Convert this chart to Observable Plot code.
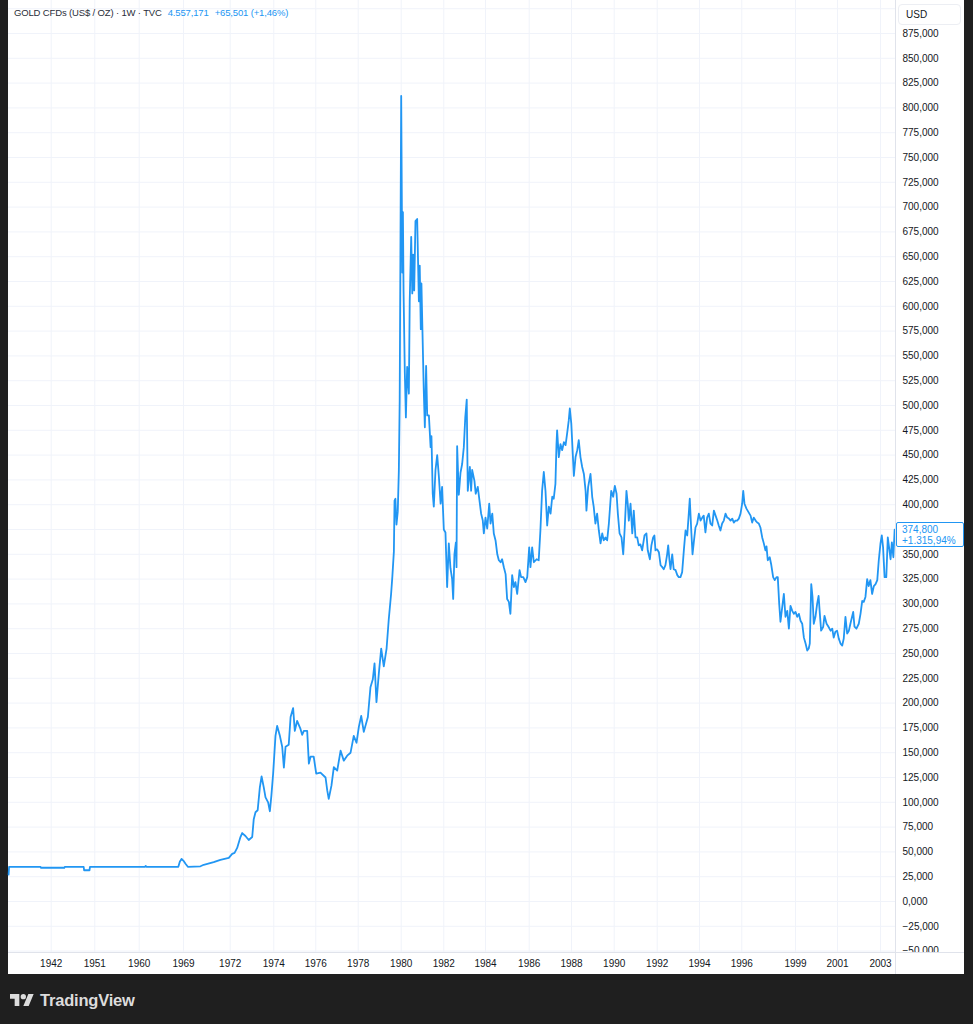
<!DOCTYPE html>
<html>
<head>
<meta charset="utf-8">
<script src="https://cdn.jsdelivr.net/npm/d3@7"></script>
<script src="https://cdn.jsdelivr.net/npm/@observablehq/plot@0.6"></script>
<style>
html,body{margin:0;padding:0;background:#1f1f1f;width:973px;height:1024px;overflow:hidden;font-family:"Liberation Sans",Arial,sans-serif;}
#panel{position:absolute;left:8px;top:0;width:956px;height:974px;background:#fff;}
#main{position:absolute;left:0;top:0;}
#xaxis{position:absolute;left:0;top:953px;}
.vsep{position:absolute;left:895px;top:0;width:1px;height:974px;background:#e0e3eb;}
.hsep{position:absolute;left:8px;top:952px;width:956px;height:1px;background:#e0e3eb;}
#header{position:absolute;left:14px;top:7px;font-size:9.5px;line-height:12px;white-space:pre;display:flex;letter-spacing:-0.15px;}
#header .sym{color:#2a2e39;}
#header .q{color:#2196f3;margin-left:6px;}
#usd{position:absolute;left:898px;top:4px;width:61px;height:19px;border:1px solid #eceef3;border-radius:4px;background:#fff;font-size:10px;line-height:19px;color:#131722;box-sizing:content-box;}
#usd span{margin-left:7px;}
#tag{position:absolute;left:896px;width:66px;height:23px;border:1px solid #2196f3;border-radius:2px;background:#fff;color:#2196f3;font-size:10px;line-height:11px;}
#tag div{margin-left:5px;}
#logo{position:absolute;left:10px;top:991px;height:18px;display:flex;align-items:center;color:#dcdcdc;}
#logo span{font-weight:bold;font-size:16.5px;margin-left:6px;letter-spacing:-0.2px;}
</style>
</head>
<body>
<div id="panel"></div>
<div id="chartwrap"></div>
<script>
// ---------------- DATA ----------------
const symbolName = "GOLD CFDs (US$ / OZ) · 1W · TVC";
const headerQuote = "4.557,171";
const headerChange = "+65,501 (+1,46%)";
const tagChange = "+1.315,94%";
const currency = "USD";

const tickYears = [1942, 1951, 1960, 1969, 1972, 1974, 1976, 1978, 1980, 1982, 1984, 1986, 1988, 1990, 1992, 1994, 1996, 1999, 2001, 2003];

const priceTicks = [-50, -25, 0, 25, 50, 75, 100, 125, 150, 175, 200, 225, 250, 275, 300, 325, 350, 375, 400, 425, 450, 475, 500, 525, 550, 575, 600, 625, 650, 675, 700, 725, 750, 775, 800, 825, 850, 875];
const gridPrices = [...priceTicks, 900];

// [year, price US$/oz]
const goldSeries = [
[1933.2,27],[1933.3,35],[1939.8,35],[1939.9,34],[1944.7,34],[1944.8,35],[1948.7,35],[1948.8,31.5],[1949.9,31.5],[1950.0,35],
[1961.2,35],[1961.3,35.8],[1961.5,35],[1967.95,35],[1968.25,40],[1968.6,43],[1969.0,41],[1969.13,38],[1969.28,35],[1970.09,35.5],
[1970.3,37],[1970.94,39.6],[1971.37,42],[1971.91,44],[1972.09,48],[1972.2,49],[1972.32,54],[1972.47,65],[1972.55,69],[1972.70,66],
[1972.85,62],[1973.01,65],[1973.08,83],[1973.16,90],[1973.26,92],[1973.36,115],[1973.44,126],[1973.54,115],[1973.62,105],[1973.74,100],
[1973.82,91],[1973.89,107],[1973.97,129],[1974.08,167],[1974.16,177],[1974.29,167],[1974.40,156],[1974.48,135],[1974.56,156],[1974.71,158],
[1974.80,186],[1974.92,195],[1975.0,172],[1975.11,182],[1975.27,174],[1975.35,168],[1975.43,172],[1975.59,172],[1975.67,139],[1975.75,146],
[1975.90,146],[1976.02,129],[1976.22,130],[1976.46,125],[1976.54,112],[1976.61,103.5],[1976.74,117],[1976.85,135.5],[1977.01,132],[1977.17,152],
[1977.32,142],[1977.48,147],[1977.64,150],[1977.79,167],[1977.92,160],[1978.03,176],[1978.14,187],[1978.26,171],[1978.45,186],[1978.57,216],
[1978.68,224],[1978.76,240],[1978.85,201],[1978.96,230],[1979.07,255],[1979.19,237],[1979.32,255],[1979.42,284],[1979.53,310],[1979.59,328],
[1979.66,353],[1979.69,404],[1979.73,406],[1979.78,380],[1979.84,393],[1979.89,434],[1979.93,505],[1980.0,812],[1980.05,634],[1980.08,695],
[1980.11,616],[1980.17,533],[1980.22,488],[1980.28,539],[1980.36,512],[1980.40,605],[1980.47,670],[1980.52,613],[1980.56,652],[1980.61,616],
[1980.67,686],[1980.75,688],[1980.83,605],[1980.87,641],[1980.92,577],[1980.95,623],[1981.00,573],[1981.06,515],[1981.11,478],[1981.17,540],
[1981.22,490],[1981.30,490],[1981.38,458],[1981.42,469],[1981.48,411],[1981.53,398],[1981.61,435],[1981.69,450],[1981.77,428],[1981.85,401],
[1981.92,418],[1982.00,375],[1982.08,372],[1982.16,317],[1982.24,361],[1982.32,336],[1982.40,325],[1982.45,305],[1982.51,350],[1982.58,362],
[1982.61,337],[1982.64,459],[1982.72,410],[1982.80,432],[1982.88,441],[1982.96,458],[1983.03,488],[1983.10,506],[1983.15,414],[1983.25,438],
[1983.31,414],[1983.36,435],[1983.47,424],[1983.53,411],[1983.63,418],[1983.73,401],[1983.79,391],[1983.87,384],[1983.92,371],[1984.00,387],
[1984.08,376],[1984.17,401],[1984.23,381],[1984.31,391],[1984.38,371],[1984.46,364],[1984.54,350],[1984.61,344],[1984.69,342],[1984.76,345],
[1984.84,337],[1984.92,330],[1984.99,305],[1985.07,302],[1985.14,290],[1985.22,329],[1985.30,317],[1985.37,322],[1985.45,310],[1985.56,334],
[1985.63,327],[1985.73,327],[1985.83,322],[1985.91,327],[1986.00,357],[1986.06,337],[1986.14,357],[1986.22,342],[1986.35,345],[1986.45,344],
[1986.53,374],[1986.61,414],[1986.69,433],[1986.77,414],[1986.85,379],[1986.93,398],[1987.01,391],[1987.09,408],[1987.16,406],[1987.24,421],
[1987.29,461],[1987.32,475],[1987.40,448],[1987.48,461],[1987.56,455],[1987.64,463],[1987.72,460],[1987.80,473],[1987.87,485],[1987.92,497],
[1987.99,482],[1988.06,451],[1988.11,429],[1988.19,448],[1988.27,455],[1988.34,465],[1988.42,448],[1988.50,438],[1988.58,431],[1988.66,414],
[1988.70,394],[1988.78,418],[1988.89,431],[1988.97,408],[1989.04,398],[1989.12,381],[1989.20,391],[1989.28,374],[1989.36,361],[1989.44,371],
[1989.51,364],[1989.59,367],[1989.67,364],[1989.75,381],[1989.86,414],[1989.95,408],[1990.03,419],[1990.11,411],[1990.17,391],[1990.25,371],
[1990.34,367],[1990.42,350],[1990.49,377],[1990.57,414],[1990.63,401],[1990.68,384],[1990.76,401],[1990.84,371],[1990.91,394],[1990.99,367],
[1991.07,367],[1991.14,359],[1991.22,360],[1991.30,354],[1991.41,369],[1991.50,371],[1991.56,354],[1991.66,345],[1991.73,359],[1991.81,367],
[1991.87,369],[1991.92,354],[1992.00,355],[1992.08,352],[1992.16,339],[1992.24,337],[1992.31,335],[1992.39,339],[1992.47,350],[1992.52,359],
[1992.58,344],[1992.63,335],[1992.71,350],[1992.78,335],[1992.87,334],[1992.95,329],[1993.02,327],[1993.10,327],[1993.18,332],[1993.26,354],
[1993.34,374],[1993.42,369],[1993.48,387],[1993.54,406],[1993.61,374],[1993.67,350],[1993.73,362],[1993.81,377],[1993.89,381],[1993.97,391],
[1994.05,384],[1994.13,387],[1994.20,389],[1994.28,372],[1994.36,387],[1994.44,391],[1994.52,381],[1994.60,379],[1994.68,394],[1994.76,389],
[1994.84,384],[1994.91,379],[1994.99,374],[1995.07,381],[1995.15,384],[1995.23,391],[1995.31,387],[1995.39,386],[1995.47,384],[1995.55,386],
[1995.62,382],[1995.70,384],[1995.78,384],[1995.86,386],[1995.94,391],[1996.02,401],[1996.08,414],[1996.15,401],[1996.26,396],[1996.39,392],
[1996.49,389],[1996.58,382],[1996.67,387],[1996.77,384],[1996.86,382],[1996.95,381],[1997.04,377],[1997.14,367],[1997.23,361],[1997.32,354],
[1997.38,358],[1997.45,344],[1997.56,347],[1997.64,340],[1997.75,327],[1997.84,324],[1997.94,327],[1998.01,327],[1998.09,300],[1998.16,282],
[1998.26,297],[1998.35,310],[1998.44,287],[1998.54,293],[1998.63,275],[1998.72,298],[1998.82,293],[1998.91,290],[1999.00,292],[1999.08,287],
[1999.16,290],[1999.24,283],[1999.32,280],[1999.40,266],[1999.48,260],[1999.56,253],[1999.63,255],[1999.68,260],[1999.75,320],[1999.81,307],
[1999.87,280],[1999.95,287],[2000.03,300],[2000.10,308],[2000.16,290],[2000.22,273],[2000.32,277],[2000.38,288],[2000.48,280],[2000.57,277],
[2000.67,273],[2000.75,275],[2000.82,266],[2000.90,272],[2000.98,273],[2001.06,265],[2001.14,260],[2001.22,258],[2001.29,265],[2001.37,287],
[2001.45,270],[2001.53,273],[2001.60,280],[2001.73,292],[2001.79,277],[2001.88,275],[2001.99,280],[2002.07,290],[2002.15,303],[2002.22,302],
[2002.30,307],[2002.38,325],[2002.45,318],[2002.53,324],[2002.61,310],[2002.69,318],[2002.77,320],[2002.85,324],[2002.92,344],[2003.00,361],
[2003.06,369],[2003.12,357],[2003.19,327],[2003.27,327],[2003.34,367],[2003.40,357],[2003.47,345],[2003.53,362],[2003.60,347],[2003.66,374.8]
];

// ---------------- CHART ----------------
const blue = "#2196f3";
const ink = "#131722";
const gridColor = "#f0f3fa";
// TradingView's bar-index time axis is not linear in time: piecewise scale through the tick years
const xDomain = [1933.18, ...tickYears, 2003.7];
const xRange = [8, 50.7, 94.3, 138.7, 183, 229.7, 273.3, 315.3, 357.7, 400.7, 443.3, 485, 528.7, 571, 613.7, 656.7, 699, 741.3, 795, 837, 880, 895];
const fmtPrice = v => d3.format(".3f")(v).replace(".", ",");

const wrap = document.getElementById("chartwrap");

const main = Plot.plot({
  width: 973, height: 953,
  marginTop: 0, marginBottom: 0, marginLeft: 8, marginRight: 78,
  x: {type: "linear", domain: xDomain, range: xRange, axis: null},
  y: {domain: [-50, 875], range: [950.6, 33], axis: null},
  style: {fontFamily: "'Liberation Sans', Arial, sans-serif", fontSize: "10px", background: "transparent", color: ink},
  marks: [
    Plot.gridX(tickYears, {stroke: gridColor, strokeOpacity: 1}),
    Plot.gridY(gridPrices, {stroke: gridColor, strokeOpacity: 1}),
    Plot.axisY(priceTicks, {anchor: "right", tickSize: 0, tickPadding: 7, tickFormat: fmtPrice, fill: ink, label: null}),
    Plot.line(goldSeries, {x: d => d[0], y: d => d[1], stroke: blue, strokeWidth: 1.8, strokeLinejoin: "round"})
  ]
});
main.id = "main";
wrap.appendChild(main);

const xaxis = Plot.plot({
  width: 973, height: 21,
  marginTop: 0, marginBottom: 0, marginLeft: 8, marginRight: 78,
  x: {type: "linear", domain: xDomain, range: xRange, axis: null},
  style: {fontFamily: "'Liberation Sans', Arial, sans-serif", fontSize: "10px", background: "transparent", color: ink},
  marks: [
    Plot.text(tickYears, {x: d => d, text: d => String(d), frameAnchor: "middle", fill: ink})
  ]
});
xaxis.id = "xaxis";
wrap.appendChild(xaxis);

// separators
const vs = document.createElement("div"); vs.className = "vsep"; document.body.appendChild(vs);
const hs = document.createElement("div"); hs.className = "hsep"; document.body.appendChild(hs);

// header
const header = document.createElement("div"); header.id = "header";
[[symbolName, "sym"], [headerQuote, "q"], [headerChange, "q"]].forEach(([t, c]) => {
  const s = document.createElement("span"); s.className = c; s.textContent = t; header.appendChild(s);
});
document.body.appendChild(header);

// currency box
const usd = document.createElement("div"); usd.id = "usd"; usd.innerHTML = "<span></span>"; usd.firstChild.textContent = currency; document.body.appendChild(usd);

// last price tag, placed through the chart's y scale
const last = goldSeries[goldSeries.length - 1];
const yLast = main.scale("y").apply(last[1]);
const tag = document.createElement("div"); tag.id = "tag";
tag.style.top = (yLast - 7) + "px";
const t1 = document.createElement("div"); t1.style.marginTop = "1px"; t1.textContent = fmtPrice(last[1]);
const t2 = document.createElement("div"); t2.textContent = tagChange;
tag.appendChild(t1); tag.appendChild(t2);
document.body.appendChild(tag);

// logo
const logo = document.createElement("div"); logo.id = "logo";
logo.innerHTML = '<svg width="24" height="12" viewBox="0 4 36 18"><path fill="#dcdcdc" d="M14 22H7V11H0V4h14v18zM28 22h-8l7.5-18h8L28 22z"/><circle fill="#dcdcdc" cx="20" cy="8" r="4"/></svg><span>TradingView</span>';
document.body.appendChild(logo);
</script>
</body>
</html>
